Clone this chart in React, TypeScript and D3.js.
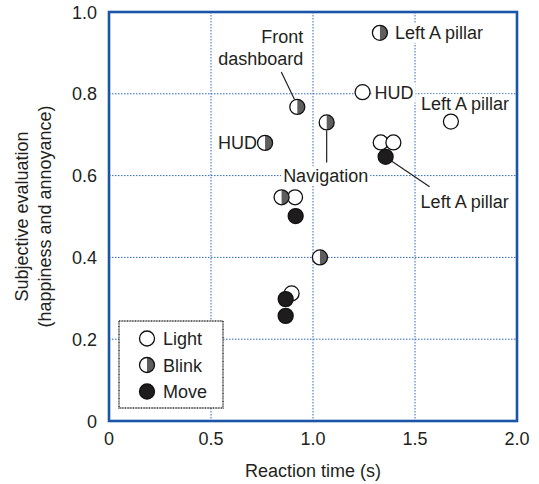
import { useEffect, useRef } from "react";
import * as d3 from "d3";

// reaction time (s), subjective evaluation
const lightPoints = [
  { rt: 1.243, score: 0.804 },
  { rt: 1.676, score: 0.732 },
  { rt: 1.332, score: 0.681 },
  { rt: 1.394, score: 0.681 },
  { rt: 0.912, score: 0.547 },
  { rt: 0.895, score: 0.312 },
];
const blinkPoints = [
  { rt: 1.328, score: 0.949 },
  { rt: 0.923, score: 0.768 },
  { rt: 1.067, score: 0.73 },
  { rt: 0.765, score: 0.68 },
  { rt: 0.846, score: 0.547 },
  { rt: 1.034, score: 0.4 },
];
const movePoints = [
  { rt: 1.356, score: 0.646 },
  { rt: 0.915, score: 0.501 },
  { rt: 0.866, score: 0.298 },
  { rt: 0.866, score: 0.257 },
];

const xTicks = [0, 0.5, 1.0, 1.5, 2.0];
const yTicks = [0, 0.2, 0.4, 0.6, 0.8, 1.0];
const legendItems = ["Light", "Blink", "Move"];

// labels anchored on a data point, offsets in px
const annotations = [
  { rt: 1.328, score: 0.949, lines: ["Left A pillar"], anchor: "start", dx: 15, dy: 6, leader: null },
  { rt: 0.923, score: 0.768, lines: ["Front", "dashboard"], anchor: "end", dx: 6, dy: -63.5, leader: [-3, -8, -16, -35] },
  { rt: 1.243, score: 0.804, lines: ["HUD"], anchor: "start", dx: 12, dy: 6.5, leader: null },
  { rt: 0.765, score: 0.68, lines: ["HUD"], anchor: "end", dx: -8, dy: 6.5, leader: null },
  { rt: 1.676, score: 0.732, lines: ["Left A pillar"], anchor: "start", dx: -30, dy: -11.5, leader: null },
  { rt: 1.067, score: 0.73, lines: ["Navigation"], anchor: "middle", dx: -1, dy: 59.5, leader: [0, 8, 0, 40] },
  { rt: 1.356, score: 0.646, lines: ["Left A pillar"], anchor: "start", dx: 35, dy: 51.5, leader: [4, 3, 44, 30] },
];

const W = 539;
const H = 484;
const margin = { top: 12, right: 22, bottom: 63, left: 109 };
const FONT = "'Liberation Sans', Arial, sans-serif";
const TEXT = "#231f20";
const FRAME = "#1a55a8";
const GRID = "#2f66c4";
const R = 7.5;

export default function App() {
  const svgRef = useRef<SVGSVGElement>(null);

  useEffect(() => {
    if (!svgRef.current) return;
    const svg = d3.select(svgRef.current);
    svg.selectAll("*").remove();

    const x = d3.scaleLinear().domain([0, 2]).range([margin.left, W - margin.right]);
    const y = d3.scaleLinear().domain([0, 1]).range([H - margin.bottom, margin.top]);

    const g = svg.append("g").attr("font-family", FONT).attr("fill", TEXT);

    // Gridlines
    g.append("g")
      .selectAll("line.vx")
      .data(xTicks.slice(1, -1))
      .join("line")
      .attr("x1", (d) => x(d))
      .attr("x2", (d) => x(d))
      .attr("y1", y(1))
      .attr("y2", y(0))
      .attr("stroke", GRID)
      .attr("stroke-width", 1)
      .attr("stroke-dasharray", "1.5,1.5");

    g.append("g")
      .selectAll("line.hy")
      .data(yTicks.slice(1, -1))
      .join("line")
      .attr("x1", x(0))
      .attr("x2", x(2))
      .attr("y1", (d) => y(d))
      .attr("y2", (d) => y(d))
      .attr("stroke", GRID)
      .attr("stroke-width", 1)
      .attr("stroke-dasharray", "1.5,1.5");

    // Tick labels
    g.append("g")
      .selectAll("text")
      .data(xTicks)
      .join("text")
      .attr("x", (d) => x(d))
      .attr("y", 445)
      .attr("text-anchor", "middle")
      .attr("font-size", 18)
      .text((d) => (d === 0 ? "0" : d.toFixed(1)));

    g.append("g")
      .selectAll("text")
      .data(yTicks)
      .join("text")
      .attr("x", 97)
      .attr("y", (d) => y(d) + 6.5)
      .attr("text-anchor", "end")
      .attr("font-size", 18)
      .text((d) => (d === 0 ? "0" : d.toFixed(1)));

    // Axis titles
    g.append("text")
      .attr("x", (x(0) + x(2)) / 2)
      .attr("y", 477)
      .attr("text-anchor", "middle")
      .attr("font-size", 18)
      .text("Reaction time (s)");

    const cy = (y(0) + y(1)) / 2;
    const yTitle = g.append("text")
      .attr("transform", `translate(0,${cy}) rotate(-90)`)
      .attr("text-anchor", "middle")
      .attr("font-size", 18);
    yTitle.append("tspan").attr("x", 0).attr("y", 28).text("Subjective evaluation");
    yTitle.append("tspan").attr("x", 0).attr("y", 51).text("(happiness and annoyance)");

    // Annotations (white background breaks gridlines)
    const ann = g.append("g");
    annotations.forEach((a) => {
      const px = x(a.rt);
      const py = y(a.score);
      if (a.leader) {
        ann.append("line")
          .attr("x1", px + a.leader[0])
          .attr("y1", py + a.leader[1])
          .attr("x2", px + a.leader[2])
          .attr("y2", py + a.leader[3])
          .attr("stroke", TEXT)
          .attr("stroke-width", 1.2);
      }
      const grp = ann.append("g");
      const bg = grp.append("rect").attr("fill", "#fff");
      const t = grp.append("text")
        .attr("text-anchor", a.anchor)
        .attr("font-size", 18);
      a.lines.forEach((l, i) => {
        t.append("tspan")
          .attr("x", px + a.dx)
          .attr("y", py + a.dy + i * 22)
          .text(l);
      });
      const b = (t.node() as SVGTextElement).getBBox();
      bg.attr("x", b.x - 2).attr("y", b.y).attr("width", b.width + 4).attr("height", b.height);
    });

    // Markers
    const halfPath = (cx: number, cyy: number) =>
      `M${cx},${cyy - R} A${R},${R} 0 0 1 ${cx},${cyy + R} Z`;

    const drawLight = (sel: d3.Selection<SVGGElement, unknown, null, undefined>, cx: number, cyy: number) => {
      sel.append("circle").attr("cx", cx).attr("cy", cyy).attr("r", R)
        .attr("fill", "#fff").attr("stroke", "#111").attr("stroke-width", 1.3);
    };
    const drawBlink = (sel: d3.Selection<SVGGElement, unknown, null, undefined>, cx: number, cyy: number) => {
      sel.append("circle").attr("cx", cx).attr("cy", cyy).attr("r", R)
        .attr("fill", "#fff").attr("stroke", "none");
      sel.append("path").attr("d", halfPath(cx, cyy)).attr("fill", "#5e5e5e");
      sel.append("circle").attr("cx", cx).attr("cy", cyy).attr("r", R)
        .attr("fill", "none").attr("stroke", "#111").attr("stroke-width", 1.3);
    };
    const drawMove = (sel: d3.Selection<SVGGElement, unknown, null, undefined>, cx: number, cyy: number) => {
      sel.append("circle").attr("cx", cx).attr("cy", cyy).attr("r", R)
        .attr("fill", "#1e1c1d").attr("stroke", "#111").attr("stroke-width", 1.3);
    };

    const marks = g.append("g");
    lightPoints.forEach((p) => drawLight(marks, x(p.rt), y(p.score)));
    blinkPoints.forEach((p) => drawBlink(marks, x(p.rt), y(p.score)));
    movePoints.forEach((p) => drawMove(marks, x(p.rt), y(p.score)));

    // Legend
    const lg = g.append("g");
    lg.append("rect")
      .attr("x", 119).attr("y", 321).attr("width", 104).attr("height", 87)
      .attr("fill", "#fff").attr("stroke", "#333").attr("stroke-width", 1.5)
      .attr("stroke-dasharray", "1,0.6");
    legendItems.forEach((name, i) => {
      const ly = 338.5 + i * 26.5;
      if (i === 0) drawLight(lg, 147, ly);
      else if (i === 1) drawBlink(lg, 147, ly);
      else drawMove(lg, 147, ly);
      lg.append("text").attr("x", 163).attr("y", ly + 6.5).attr("font-size", 18).text(name);
    });

    // Frame
    g.append("rect")
      .attr("x", x(0)).attr("y", y(1))
      .attr("width", x(2) - x(0)).attr("height", y(0) - y(1))
      .attr("fill", "none").attr("stroke", FRAME).attr("stroke-width", 2.6);
  }, []);

  return (
    <svg
      ref={svgRef}
      width={W}
      height={H}
      style={{ position: "absolute", left: 0, top: 0, background: "#fff" }}
    />
  );
}
